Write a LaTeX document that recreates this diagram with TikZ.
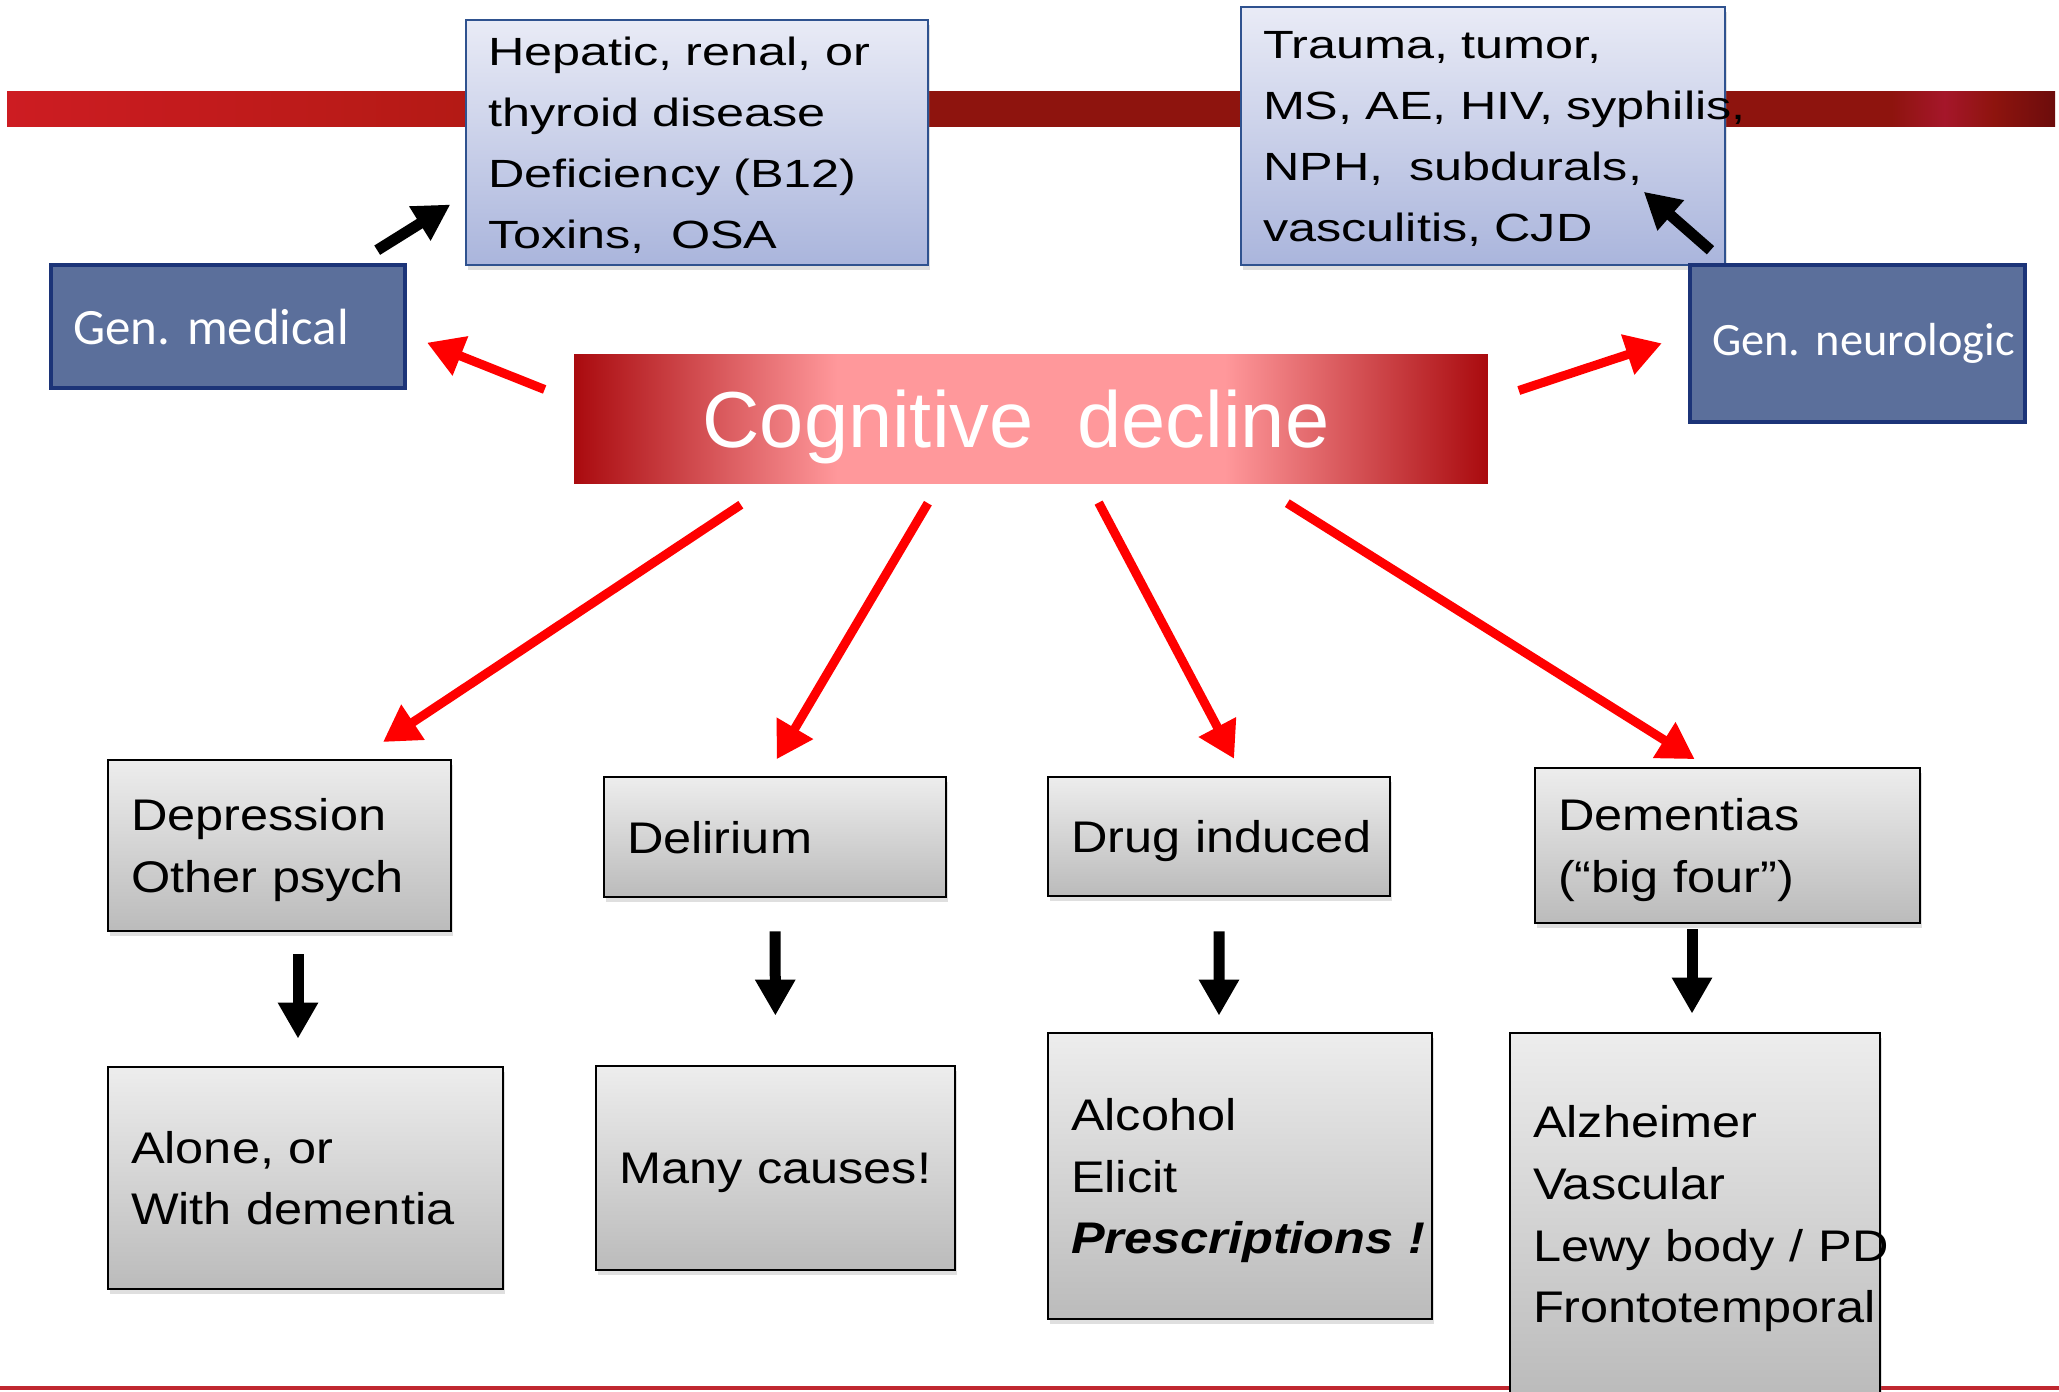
\documentclass[tikz,border=0pt]{standalone}
\usepackage{fontspec}
\setmainfont{Liberation Sans}
\newfontfamily\boxfont[FakeStretch=1.14]{Liberation Sans}
\newfontfamily\notefont[FakeStretch=1.28]{Liberation Sans}
\newfontfamily\genfont{Carlito}
\usetikzlibrary{arrows.meta,shadows}
\hyphenpenalty=10000
\exhyphenpenalty=10000

% colours
\definecolor{barA}{RGB}{205,28,34}
\definecolor{barB}{RGB}{178,26,20}
\definecolor{barC}{RGB}{142,20,14}
\definecolor{barD}{RGB}{165,22,42}
\definecolor{barE}{RGB}{108,12,12}
\definecolor{cogDark}{RGB}{168,8,12}
\definecolor{cogPink}{RGB}{255,152,155}
\definecolor{hepTop}{RGB}{233,235,246}
\definecolor{hepBot}{RGB}{170,181,220}
\definecolor{hepLine}{RGB}{47,82,143}
\definecolor{genFill}{RGB}{91,111,155}
\definecolor{genLine}{RGB}{28,52,120}
\definecolor{grayTop}{RGB}{237,237,237}
\definecolor{grayBot}{RGB}{187,187,187}
\definecolor{lineRed}{RGB}{192,40,48}

\pgfdeclarehorizontalshading{barshade}{100bp}{color(0bp)=(barA); color(25bp)=(barA); color(37bp)=(barB); color(47bp)=(barC); color(71bp)=(barC); color(72.3bp)=(barD); color(73.5bp)=(barC); color(75bp)=(barE); color(100bp)=(barE)}
\pgfdeclarehorizontalshading{cogshade}{100bp}{color(0bp)=(cogDark); color(25bp)=(cogDark); color(39.5bp)=(cogPink); color(60.5bp)=(cogPink); color(75bp)=(cogDark); color(100bp)=(cogDark)}

\tikzset{
  softshadow/.style={drop shadow={opacity=0.25, shadow xshift=0.02cm, shadow yshift=-0.05cm}},
  notebox/.style={draw=hepLine, line width=0.7pt, top color=hepTop, bottom color=hepBot,
    align=left, inner xsep=0.22cm, font=\fontsize{11.2}{17.35}\notefont, softshadow},
  genbox/.style={draw=genLine, line width=0.9pt, fill=genFill, text=white,
    align=left, inner xsep=0.22cm},
  cogbox/.style={draw=white, line width=0.08cm, shade, shading=cogshade, text=white,
    text depth=0pt, font=\fontsize{22.6}{27}\selectfont,
    drop shadow={opacity=0.35, shadow xshift=0.02cm, shadow yshift=-0.04cm}},
  graybox/.style={draw=black, line width=0.8pt, top color=grayTop, bottom color=grayBot,
    align=left, inner xsep=0.23cm, font=\fontsize{12.6}{17.6}\boxfont, softshadow},
  redarrow/.style={draw=red, line width=0.09cm, -{Triangle[length=0.36cm,width=0.40cm]}},
  blackarrow/.style={draw=black, line width=0.11cm, -{Triangle[length=0.36cm,width=0.38cm]}}
}

\begin{document}
\begin{tikzpicture}
    \useasboundingbox (0,0) rectangle (20.59,-13.91);
    \clip (0,0) rectangle (20.59,-13.91);

    % Slide lines
    \draw[lineRed, line width=0.04cm] (0,-13.88) -- (20.59,-13.88);
    \shade[shading=barshade] (0.07,-0.91) rectangle (20.55,-1.26);

    % Cause lists at the top
    \node[notebox, minimum width=4.62cm, minimum height=2.45cm, text width=4.18cm, text depth=52pt] (hep) at (6.97,-1.425)
        {Hepatic, renal, or\\thyroid disease\\Deficiency (B12)\\Toxins,~~OSA};
    \node[notebox, minimum width=4.84cm, minimum height=2.58cm, text width=4.40cm, text depth=52pt] (trm) at (14.83,-1.36)
        {Trauma, tumor,\\MS,~AE,~HIV,~syphilis,\\NPH,~~subdurals,\\vasculitis, CJD};

    % General groups
    \node[genbox, minimum width=3.54cm, minimum height=1.23cm, text width=3.10cm,
        font=\fontsize{14.5}{17}\genfont] (gm) at (2.28,-3.265) {Gen.~medical};
    \node[genbox, minimum width=3.35cm, minimum height=1.57cm, text width=2.91cm,
        font=\fontsize{13.2}{16}\genfont] (gn) at (18.575,-3.435) {Gen.~neurologic};

    % Main box
    \node[cogbox, minimum width=9.22cm, minimum height=1.38cm] (cog) at (10.31,-4.19)
        {Cognitive~~decline\rule{0.3cm}{0pt}};

    % Four kinds
    \node[graybox, minimum width=3.43cm, minimum height=1.71cm, text width=2.97cm, text depth=17.6pt] (dep) at (2.795,-8.455)
        {Depression\\Other psych};
    \node[graybox, minimum width=3.42cm, minimum height=1.20cm, text width=2.96cm, text depth=0pt] (del) at (7.75,-8.37)
        {Delirium};
    \node[graybox, minimum width=3.42cm, minimum height=1.19cm, text width=2.96cm, text depth=0pt] (drug) at (12.19,-8.365)
        {Drug~induced};
    \node[graybox, minimum width=3.85cm, minimum height=1.55cm, text width=3.39cm, text depth=17.6pt] (dem) at (17.275,-8.455)
        {Dementias\\(“big four”)};

    % What they lead to
    \node[graybox, minimum width=3.95cm, minimum height=2.22cm, text width=3.49cm, text depth=17.6pt] (alone) at (3.055,-11.78)
        {Alone, or\\With dementia};
    \node[graybox, minimum width=3.59cm, minimum height=2.04cm, text width=3.13cm, text depth=0pt] (many) at (7.755,-11.68)
        {Many~causes!};
    \node[graybox, minimum width=3.84cm, minimum height=2.86cm, text width=3.38cm, text depth=35.2pt] (alc) at (12.40,-11.76)
        {Alcohol\\Elicit\\{\bfseries\itshape Prescriptions~!}};
    \node[graybox, minimum width=3.70cm, minimum height=3.62cm, text width=3.24cm, text depth=52.8pt] (alz) at (16.95,-12.14)
        {Alzheimer\\Vascular\\Lewy~body~/~PD\\Frontotemporal};

    % Red arrows out of the main box
    \draw[redarrow, shorten <=0.23cm, shorten >=0.22cm] ([yshift=0.21cm]cog.west) -- ([yshift=-0.08cm]gm.east);
    \draw[redarrow, shorten <=0.24cm, shorten >=0.28cm] ([yshift=0.21cm]cog.east) -- ([yshift=0.09cm]gn.west);
    \draw[redarrow, shorten <=0.23cm, shorten >=0.30cm] ([xshift=-2.71cm]cog.south) -- ([xshift=0.785cm]dep.north);
    \draw[redarrow, shorten <=0.13cm, shorten >=0.19cm] ([xshift=-0.965cm]cog.south) -- ([xshift=-0.08cm]del.north);
    \draw[redarrow, shorten <=0.12cm, shorten >=0.19cm] ([xshift=0.62cm]cog.south) -- ([xshift=0.24cm]drug.north);
    \draw[redarrow, shorten <=0.21cm, shorten >=0.14cm] ([xshift=2.385cm]cog.south) -- ([xshift=-0.21cm]dem.north);

    % Black arrows
    \draw[blackarrow, shorten <=0.25cm, shorten >=0.17cm] ([xshift=1.28cm]gm.north) -- ([yshift=-0.53cm]hep.west);
    \draw[blackarrow, shorten <=0.20cm] ([xshift=-1.32cm]gn.north) -- ([shift={(-0.825,0.745)}]trm.south east);
    \draw[blackarrow, shorten <=0.22cm, shorten >=0.27cm] ([xshift=0.185cm]dep.south) -- ([xshift=-0.075cm]alone.north);
    \draw[blackarrow, shorten <=0.33cm, shorten >=0.49cm] (del.south) -- (many.north);
    \draw[blackarrow, shorten <=0.34cm, shorten >=0.16cm] (drug.south) -- ([xshift=-0.21cm]alc.north);
    \draw[blackarrow, shorten <=0.05cm, shorten >=0.18cm] ([xshift=-0.355cm]dem.south) -- ([xshift=-0.03cm]alz.north);
\end{tikzpicture}
\end{document}
